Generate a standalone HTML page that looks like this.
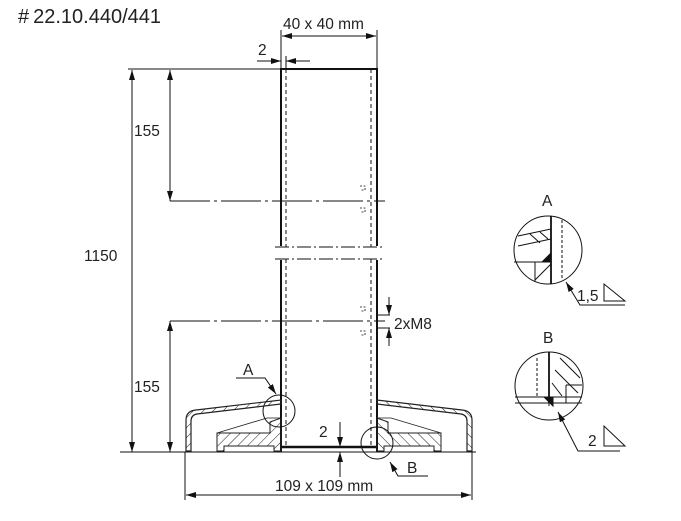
<!DOCTYPE html>
<html><head><meta charset="utf-8"><style>
html,body{margin:0;padding:0;background:#fff}
svg{display:block}
text{font-family:"Liberation Sans",sans-serif;fill:#222}
</style></head><body>
<svg width="681" height="521" viewBox="0 0 681 521" xmlns="http://www.w3.org/2000/svg">
<defs>
<marker id="ar" markerWidth="10" markerHeight="6" refX="10" refY="3" orient="auto-start-reverse" markerUnits="userSpaceOnUse"><path d="M0,0 L10,3 L0,6 z" fill="#111"/></marker>
<pattern id="h" width="7" height="7" patternUnits="userSpaceOnUse" patternTransform="rotate(45)"><line x1="0" y1="0" x2="0" y2="7" stroke="#222" stroke-width="1"/></pattern>
<g id="half">
<path d="M186,451 L186,420 Q186,411 196,410 L281,400 L281,404 L197,414 Q191,415 191,421 L191,451 Z" fill="url(#h)" stroke="#222" stroke-width="1.2"/>
<path d="M217,451 L217,433 L270,433 L270,422 L281,418 L281,451 L274,451 L274,446 L224,446 L224,451 Z" fill="url(#h)" stroke="#222" stroke-width="1"/>
<line x1="217" y1="433" x2="267" y2="418" stroke="#222" stroke-width="0.8"/>
<line x1="267" y1="418" x2="281" y2="418" stroke="#222" stroke-width="0.8"/>
</g>
</defs>
<text x="18" y="23" font-size="20">#&#8201;22.10.440/441</text>
<g stroke="#111" fill="none">
<path d="M281,246 L281,69 L377,69 L377,246" stroke-width="2"/>
<path d="M281,260 L281,452 M377,260 L377,452" stroke-width="2"/>
<line x1="281" y1="447" x2="377" y2="447" stroke-width="2.5"/>
<path d="M286,69 V247 M286,259 V447 M371,69 V247 M371,259 V447" stroke-width="1" stroke-dasharray="4,3"/>
<path d="M275,247 H385 M275,259 H385" stroke-width="1" stroke-dasharray="14,3,2,3"/>
<line x1="128" y1="69" x2="281" y2="69" stroke-width="1"/>
<line x1="132" y1="70" x2="132" y2="452" stroke-width="1" marker-end="url(#ar)" marker-start="url(#ar)"/>
<line x1="170" y1="70" x2="170" y2="201" stroke-width="1" marker-end="url(#ar)" marker-start="url(#ar)"/>
<line x1="170" y1="321" x2="170" y2="452" stroke-width="1" marker-end="url(#ar)" marker-start="url(#ar)"/>
<line x1="170" y1="201" x2="385" y2="201" stroke-width="1" stroke-dasharray="40,4,3,4"/>
<line x1="170" y1="321" x2="385" y2="321" stroke-width="1" stroke-dasharray="40,4,3,4"/>
<line x1="120" y1="452" x2="476" y2="452" stroke-width="1"/>
<line x1="281" y1="30" x2="281" y2="69" stroke-width="1"/>
<line x1="377" y1="30" x2="377" y2="69" stroke-width="1"/>
<line x1="282" y1="36" x2="376" y2="36" stroke-width="1" marker-end="url(#ar)" marker-start="url(#ar)"/>
<line x1="257" y1="61" x2="281" y2="61" stroke-width="1" marker-end="url(#ar)"/>
<line x1="310" y1="61" x2="286" y2="61" stroke-width="1" marker-end="url(#ar)"/>
<line x1="286" y1="56" x2="286" y2="69" stroke-width="1"/>
<path d="M377,315 H390 M377,328 H390" stroke-width="1"/>
<line x1="389" y1="297" x2="389" y2="315" stroke-width="1" marker-end="url(#ar)"/>
<line x1="389" y1="346" x2="389" y2="328" stroke-width="1" marker-end="url(#ar)"/>
<path d="M360,186 h5 v4 h-5 M360,208 h5 v4 h-5 M360,307 h5 v4 h-5 M360,331 h5 v4 h-5" stroke-width="0.8" stroke-dasharray="2,1.5"/>
<line x1="340" y1="422" x2="340" y2="447" stroke-width="1" marker-end="url(#ar)"/>
<line x1="340" y1="477" x2="340" y2="452" stroke-width="1" marker-end="url(#ar)"/>
<line x1="185" y1="452" x2="185" y2="500" stroke-width="1"/>
<line x1="472" y1="452" x2="472" y2="500" stroke-width="1"/>
<line x1="186" y1="495" x2="471" y2="495" stroke-width="1" marker-end="url(#ar)" marker-start="url(#ar)"/>
</g>
<use href="#half"/>
<use href="#half" transform="translate(658,0) scale(-1,1)"/>
<g stroke="#111" fill="none" stroke-width="1">
<circle cx="279" cy="411" r="16"/>
<circle cx="377" cy="443" r="16"/>
<path d="M236,378 H265 L276,394" marker-end="url(#ar)"/>
<path d="M428,476 H398 L390,462" marker-end="url(#ar)"/>
<circle cx="548" cy="250" r="34"/>
<line x1="551" y1="216" x2="551" y2="284" stroke-width="1.8"/>
<line x1="562" y1="220" x2="562" y2="278" stroke-dasharray="3,2"/>
<path d="M518,236 L551,229 M518,246 L551,239 M530,234 L540,243 M540,232 L548,239"/>
<path d="M514,262 H551 M535,262 V282 M535,280 L551,264"/>
<path d="M542,262 L551,253 L551,262 Z" fill="#111"/>
<path d="M625,305 H580 L566,282" marker-end="url(#ar)"/>
<path d="M604,301 L625,301 L604,284 Z"/>
<g transform="translate(0,8)">
<circle cx="549" cy="378" r="34"/>
<line x1="549" y1="344" x2="549" y2="395" stroke-width="1.8"/>
<line x1="537" y1="350" x2="537" y2="388" stroke-dasharray="3,2"/>
<path d="M515,389 H582 M515,395 H582 M549,395 V398"/>
<path d="M560,350 L580,370 M555,362 L578,385 M552,375 L562,388 M566,377 H582 M566,377 V395"/>
<path d="M544,389 L553,389 L553,398 Z" fill="#111"/>
<path d="M620,443 H578 L558,404" marker-end="url(#ar)"/>
<path d="M604,438 L625,438 L604,418 Z"/>
</g>
</g>
<g font-size="15.5">
<text x="283" y="29">40 x 40 mm</text>
<text x="258" y="55">2</text>
<text x="134" y="136">155</text>
<text x="84" y="261">1150</text>
<text x="134" y="392">155</text>
<text x="394" y="329">2xM8</text>
<text x="319" y="437">2</text>
<text x="275" y="491">109 x 109 mm</text>
<text x="243" y="375">A</text>
<text x="407" y="473">B</text>
<text x="542" y="206">A</text>
<text x="543" y="343">B</text>
<text x="577" y="301">1,5</text>
<text x="588" y="446">2</text>
</g>
</svg>
</body></html>
